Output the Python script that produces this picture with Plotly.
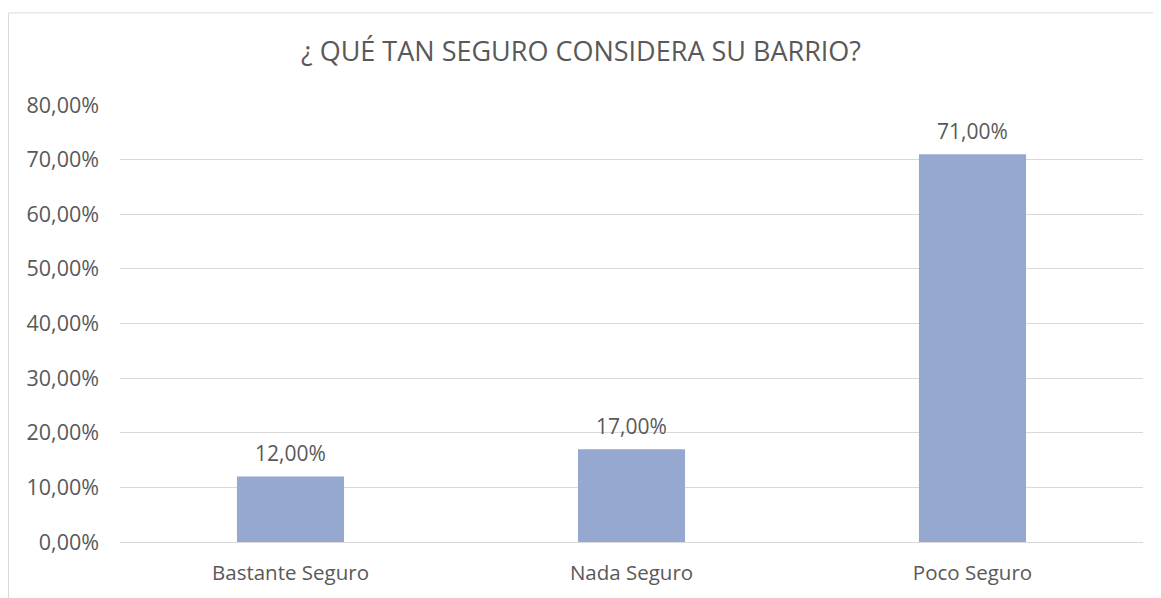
import plotly.graph_objects as go

categories = ["Bastante Seguro", "Nada Seguro", "Poco Seguro"]
values = [0.12, 0.17, 0.71]
y_ticks = [0, 0.1, 0.2, 0.3, 0.4, 0.5, 0.6, 0.7, 0.8]

TXT = "#595959"
GRID = "#D9D9D9"
BAR = "#95A9D0"
FONT = "Open Sans, sans-serif"

# page body has an 8px margin, so the figure is sized to fit the window
W, H = 1153, 590
L, R, T, B = 112, 18, 97, 54
PW, PH = W - L - R, H - T - B

fig = go.Figure(go.Bar(
    x=categories, y=values,
    marker=dict(color=BAR, line=dict(width=0)),
    width=0.314,
    hoverinfo="x+y",
))

# data labels above the bars
for c, v in zip(categories, values):
    fig.add_annotation(
        x=c, y=v, text=f"{v:.2%}".replace(".", ","),
        showarrow=False, yanchor="bottom", yshift=7,
        font=dict(size=21, color=TXT, family=FONT),
    )

fig.update_layout(
    width=W, height=H,
    separators=",.",
    margin=dict(l=L, r=R, t=T, b=B),
    paper_bgcolor="white",
    plot_bgcolor="white",
    font=dict(family=FONT, color=TXT, size=21),
    title=dict(
        text="¿ QUÉ TAN SEGURO CONSIDERA SU BARRIO?",
        x=(581 - 8) / W, xref="container", xanchor="center",
        y=1 - (52 - 8) / H, yref="container", yanchor="middle",
        font=dict(size=27, color=TXT, family=FONT),
    ),
    xaxis=dict(
        showgrid=False, showline=True, linecolor=GRID, linewidth=1,
        ticks="", ticklabelstandoff=12,
        tickfont=dict(size=20.5, color=TXT),
    ),
    yaxis=dict(
        range=[0, 0.8], tickvals=y_ticks, tickformat=".2%",
        showgrid=True, gridcolor=GRID, gridwidth=1,
        zeroline=False, showline=False, ticks="",
        ticklabelstandoff=20,
        tickfont=dict(size=21.5, color=TXT),
    ),
    showlegend=False,
    bargap=0.686,
)

# outer chart-area border (cropped at right/bottom)
fig.add_shape(
    type="rect", xref="paper", yref="paper",
    x0=(0.5 - L) / PW, x1=(W + 20 - L) / PW,
    y0=-0.3, y1=(PH + T - 4.5) / PH,
    line=dict(color=GRID, width=1), fillcolor="rgba(0,0,0,0)",
    layer="below",
)

fig.write_html("out.html")
